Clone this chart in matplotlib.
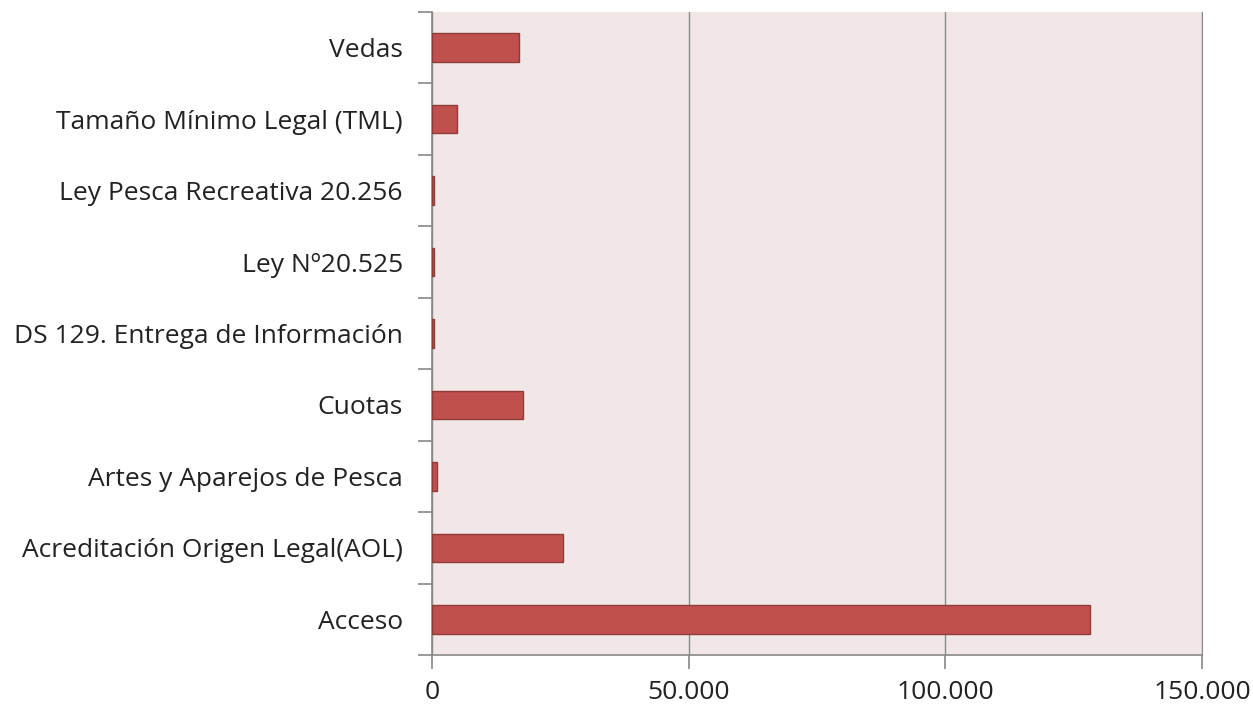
import numpy as np
import matplotlib
matplotlib.use('Agg')
import matplotlib.pyplot as plt
from matplotlib.ticker import FuncFormatter

# categorias de arriba hacia abajo
categorias = ['Vedas', 'Tamaño Mínimo Legal (TML)', 'Ley Pesca Recreativa 20.256',
              'Ley Nº20.525', 'DS 129. Entrega de Información', 'Cuotas',
              'Artes y Aparejos de Pesca', 'Acreditación Origen Legal(AOL)', 'Acceso']
valores = [17000, 4900, 300, 300, 300, 17700, 900, 25500, 128200]
xticks = [0, 50000, 100000, 150000]

plt.rcParams['font.family'] = ['Open Sans', 'DejaVu Sans']

fig = plt.figure(figsize=(12.53, 7.06), dpi=100)
ax = fig.add_axes([432/1253, 1-655/706, (1202-432)/1253, (655-12)/706])
ax.set_facecolor('#F2E7E7')

n = len(categorias)
pos = np.arange(n)[::-1]
ax.barh(pos, valores, height=0.4, color='#C0504D', edgecolor='#8E3B39', linewidth=1.0, zorder=3)

ax.set_xlim(0, 150000)
ax.set_ylim(-0.5, n-0.5)

# ticks del eje y en los limites de categoria
ax.set_yticks(np.arange(-0.5, n, 1.0))
ax.set_yticklabels([])
ax.set_yticks(pos, minor=True)
ax.set_yticklabels(categorias, minor=True, fontsize=19, color='#222222')
ax.tick_params(axis='y', which='minor', length=0, pad=21)
ax.tick_params(axis='y', which='major', length=10, color='#888888', width=1.2)

ax.set_xticks(xticks)
ax.xaxis.set_major_formatter(FuncFormatter(lambda v, p: '{:,.0f}'.format(v).replace(',', '.')))
ax.tick_params(axis='x', length=10, color='#888888', width=1.2, labelsize=19, pad=8, labelcolor='#222222')

ax.grid(axis='x', color='#8a8a8a', linewidth=1.0, zorder=0)
ax.spines['top'].set_visible(False)
ax.spines['right'].set_color('#8a8a8a')
ax.spines['left'].set_color('#888888')
ax.spines['bottom'].set_color('#888888')
ax.spines['left'].set_linewidth(1.2)
ax.spines['bottom'].set_linewidth(1.2)

fig.savefig('out.png', dpi=100)
